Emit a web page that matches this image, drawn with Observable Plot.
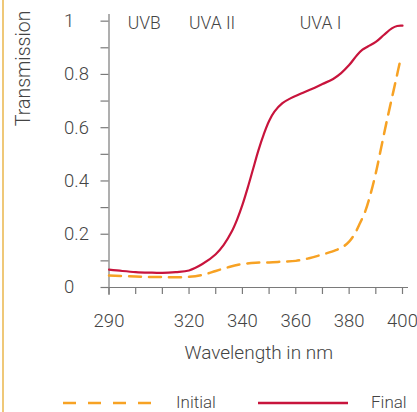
<!DOCTYPE html>
<html>
<head>
<meta charset="utf-8">
<script src="https://cdn.jsdelivr.net/npm/d3@7"></script>
<script src="https://cdn.jsdelivr.net/npm/@observablehq/plot@0.6"></script>
<style>
  html, body { margin: 0; padding: 0; background: #fff; }
  #wrap { position: relative; width: 417px; height: 412px; overflow: hidden; font-family: Roboto, "Liberation Sans", sans-serif; font-weight: 300; }
  #edge { position: absolute; left: 2px; top: 0; width: 2px; height: 412px; background: #efc878; }
  #legend { position: absolute; left: 0; top: 375px; }
</style>
</head>
<body>
<div id="wrap"><div id="edge"></div></div>
<script>
// ---- data ----
const finalNm = [290,295,300,305,310,315,320,325,330,333,336,338,340,342,344,346,348,350,352,355,358,362,366,370,374,377,380,383,385,387,390,393,396,398,400];
const finalT  = [0.067,0.062,0.058,0.056,0.055,0.058,0.064,0.088,0.125,0.16,0.21,0.255,0.31,0.375,0.445,0.515,0.575,0.625,0.66,0.692,0.71,0.728,0.745,0.764,0.783,0.805,0.835,0.873,0.893,0.905,0.922,0.948,0.973,0.982,0.983];
const initialNm = [290,300,310,320,325,330,335,340,345,350,355,360,365,370,375,378,380,382,384,386,388,390,392,394,396,398,399];
const initialT  = [0.045,0.041,0.039,0.04,0.047,0.062,0.077,0.088,0.093,0.094,0.097,0.1,0.11,0.124,0.14,0.155,0.172,0.2,0.24,0.285,0.35,0.43,0.525,0.62,0.71,0.8,0.845];
const xTicks = [290,300,310,320,330,340,350,360,370,380,390,400];
const xLabels = [290,320,340,360,380,400];
const yTicks = [0,0.1,0.2,0.3,0.4,0.5,0.6,0.7,0.8,0.9,1];
const yLabels = [0,0.2,0.4,0.6,0.8,1];
const bandNames = ["UVB","UVA II","UVA I"];
const bandStart = [297,320,361.5];
const seriesNames = ["Initial","Final"];
const xTitle = "Wavelength in nm";
const yTitle = "Transmission";

const red = "#c8143c";
const orange = "#f7a224";
const ink = "#444";
const axisColor = "#7a7a7a";

const finalData = finalNm.map((x,i)=>({x, y: finalT[i]}));
const initialData = initialNm.map((x,i)=>({x, y: initialT[i]}));
const bands = bandNames.map((name,i)=>({name, x: bandStart[i]}));

const chart = Plot.plot({
  width: 417, height: 375,
  marginLeft: 108.5, marginRight: 15, marginTop: 14, marginBottom: 88,
  x: {domain: [290, 400]},
  y: {domain: [0, 1.025]},
  style: {fontFamily: "Roboto, 'Liberation Sans', sans-serif", fontWeight: 300, fontSize: "18.5px", color: ink, background: "transparent", overflow: "visible"},
  marks: [
    Plot.ruleY([0], {stroke: axisColor, strokeWidth: 1.2, insetRight: -6}),
    Plot.ruleX([290], {stroke: axisColor, strokeWidth: 1.2, insetBottom: -8}),
    Plot.axisX({ticks: xTicks, tickSize: 7, tickPadding: 19, stroke: axisColor, strokeWidth: 1.2,
      tickFormat: d => xLabels.includes(d) ? String(d) : "", label: null}),
    Plot.axisY({ticks: yTicks, tickSize: 8, tickPadding: 37, textAnchor: "start", stroke: axisColor, strokeWidth: 1.2,
      tickFormat: d => yLabels.some(v => Math.abs(v - d) < 1e-9) ? String(+d.toFixed(1)) : "", label: null}),
    Plot.text([yTitle], {frameAnchor: "top-left", dx: -85, dy: -4, rotate: -90, textAnchor: "end", lineAnchor: "middle", fontSize: 19.5, fill: ink}),
    Plot.text([xTitle], {frameAnchor: "bottom", dx: 3, dy: 71, lineAnchor: "bottom", fontSize: 19, fill: ink}),
    Plot.text(bands, {x: "x", frameAnchor: "top", dy: 14, lineAnchor: "bottom", textAnchor: "start", text: "name", fontSize: 17.5, fill: ink}),
    Plot.line(initialData, {x: "x", y: "y", stroke: orange, strokeWidth: 2.5, strokeDasharray: "12,8", curve: "catmull-rom"}),
    Plot.line(finalData, {x: "x", y: "y", stroke: red, strokeWidth: 2.2, curve: "catmull-rom"})
  ]
});
document.getElementById("wrap").appendChild(chart);

// ---- legend ----
const legendStyle = [
  {color: orange, dash: "13,12", x0: 63, x1: 152, tx: 176},
  {color: red, dash: null, x0: 258, x1: 348, tx: 371}
];
const lg = d3.select("#wrap").append("svg").attr("id", "legend").attr("width", 417).attr("height", 37);
seriesNames.forEach((name, i) => {
  const s = legendStyle[i];
  lg.append("line").attr("x1", s.x0).attr("x2", s.x1).attr("y1", 28).attr("y2", 28)
    .attr("stroke", s.color).attr("stroke-width", 2.5).attr("stroke-dasharray", s.dash);
  lg.append("text").attr("x", s.tx).attr("y", 32.5).text(name)
    .attr("fill", ink).attr("font-size", 17).attr("font-family", "Roboto, 'Liberation Sans', sans-serif").attr("font-weight", 300);
});
</script>
</body>
</html>
